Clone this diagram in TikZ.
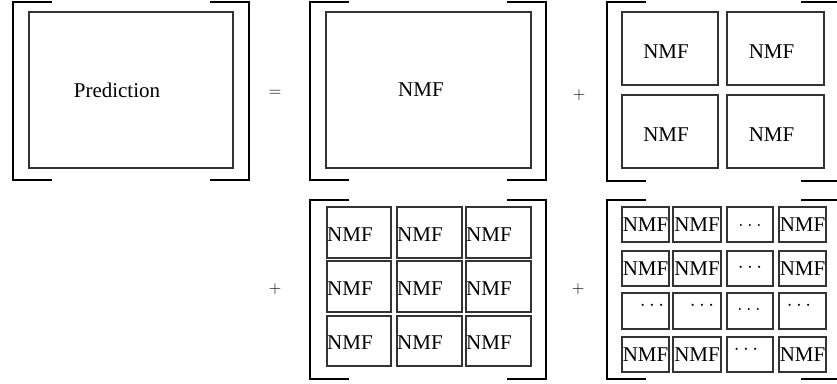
\documentclass[tikz,border=0pt]{standalone}
\usepackage{fontspec}
\setmainfont{Liberation Serif}
\newcommand\mkbox[5]{\node[bx, minimum width=#4-#2, minimum height=#5-#3] (#1) at ({(#2+#4)/2},{(#3+#5)/2}) {};}
\newcommand\mkbrackets[5]{%
  \draw[br] (#2+39,#4) -- (#2,#4) -- (#2,#5) -- (#2+39,#5);
  \draw[br] (#3-39,#4) -- (#3,#4) -- (#3,#5) -- (#3-39,#5);}
\begin{document}
\begin{tikzpicture}[x=1pt,y=-1pt,
  bx/.style={draw=black!80, line width=1.1pt, inner sep=0pt, outer sep=0pt},
  br/.style={draw=black, line width=1.1pt},
  lbl/.style={font=\fontsize{21}{24}\selectfont, inner sep=0pt},
  op/.style={font=\fontsize{16}{18}\selectfont, inner sep=0pt},
  dt/.style={font=\fontsize{21}{24}\selectfont, inner sep=0pt}]
\useasboundingbox (0,0) rectangle (837,383);

% ---- panel 1: prediction
\mkbrackets{p1}{13}{249}{2}{180}
\mkbox{pred}{29}{12}{233}{168}
\node[lbl] (predt) at (117,90) {Prediction};

\node[op] (eq) at (275,93) {$=$};

% ---- panel 2: single NMF
\mkbrackets{p2}{310}{546}{2}{180}
\mkbox{big}{326}{12}{531}{168}
\node[lbl] (bigt) at (421,90) {NMF};

\node[op] (plus1) at (579,95) {$+$};

% ---- panel 3: 2x2
\mkbrackets{p3}{607}{840}{2}{181}
\mkbox{a11}{622}{12}{718}{85}
\mkbox{a12}{727}{12}{824}{85}
\mkbox{a21}{622}{95}{718}{168}
\mkbox{a22}{727}{95}{824}{168}
\foreach \b in {a11,a12,a21,a22}{\node[lbl] (\b t) at ([xshift=-4pt,yshift=-3pt]\b.center) {NMF};}

% ---- panel 4: 3x3
\node[op] (plus2) at (275,289) {$+$};
\mkbrackets{p4}{310}{546}{200}{379}
\mkbox{b11}{327}{207}{391}{258}
\mkbox{b12}{397}{207}{462}{258}
\mkbox{b13}{466}{207}{531}{258}
\mkbox{b21}{327}{261}{391}{312}
\mkbox{b22}{397}{261}{462}{312}
\mkbox{b23}{466}{261}{531}{312}
\mkbox{b31}{327}{316}{391}{366}
\mkbox{b32}{397}{316}{462}{366}
\mkbox{b33}{466}{316}{531}{366}
\foreach \b in {b11,b12,b13,b21,b22,b23,b31,b32,b33}{\node[lbl, anchor=west] (\b t) at ([yshift=-2pt]\b.west) {NMF};}

\node[op] (plus3) at (578,289) {$+$};

% ---- panel 5: 4x4
\mkbrackets{p5}{607}{840}{200}{379}
\mkbox{c11}{622}{207}{669}{242}
\mkbox{c12}{673}{207}{721}{242}
\mkbox{c13}{727}{207}{773}{242}
\mkbox{c14}{779}{207}{826}{242}
\mkbox{c21}{622}{251}{669}{286}
\mkbox{c22}{673}{251}{721}{286}
\mkbox{c23}{727}{251}{773}{286}
\mkbox{c24}{779}{251}{826}{286}
\mkbox{c31}{622}{293}{669}{329}
\mkbox{c32}{673}{293}{721}{329}
\mkbox{c33}{727}{293}{773}{329}
\mkbox{c34}{779}{293}{826}{329}
\mkbox{c41}{622}{337}{669}{372}
\mkbox{c42}{673}{337}{721}{372}
\mkbox{c43}{727}{337}{773}{372}
\mkbox{c44}{779}{337}{826}{372}
\foreach \b in {c11,c12,c14,c21,c22,c24,c41,c42,c44}{\node[lbl] (\b t) at (\b.center) {NMF};}
\node[dt] (c13t) at (750,225) {$\ldots$};
\node[dt] (c23t) at (750,268) {$\cdots$};
\node[dt] (c31t) at (652,306) {$\cdots$};
\node[dt] (c32t) at (702,306) {$\cdots$};
\node[dt] (c33t) at (749,309) {$\ldots$};
\node[dt] (c34t) at (799,306) {$\cdots$};
\node[dt] (c43t) at (746,350) {$\cdots$};
\end{tikzpicture}
\end{document}
